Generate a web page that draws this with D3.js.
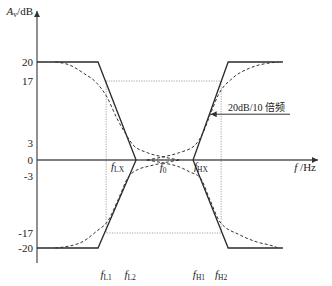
<!DOCTYPE html>
<html>
<head>
<meta charset="utf-8">
<script src="https://d3js.org/d3.v7.min.js"></script>
<style>
    body { margin: 0; background: #fff; }
    svg { display: block; font-family: 'Liberation Serif', 'Times New Roman', serif; }
</style>
</head>
<body>
<svg id="chart" width="332" height="286"></svg>
<script>
// x values are log10 of frequency (decades, arbitrary origin), y values in dB
var yTicks = [20, 17, 3, 0, -3, -17, -20];

// straight-line asymptotes (solid)
var bassBoost   = [[0, 20], [1.65, 20], [2.68, 0]];
var bassCut     = [[0, -20], [1.65, -20], [2.68, 0]];
var trebleBoost = [[4.22, 0], [5.17, 20], [6.65, 20]];
var trebleCut   = [[4.22, 0], [5.17, -20], [6.65, -20]];

var bassBoostCurve   = [[0.49, 20], [0.89, 19.5], [1.24, 18.3], [1.62, 16.5], [1.89, 13.4], [2.16, 8.6], [2.38, 5.3], [2.60, 2.65], [2.98, 1.3], [3.41, 0.55], [3.85, 0]];
var bassCutCurve     = [[0.49, -20], [1.16, -19], [1.62, -16.5], [1.92, -14], [2.19, -8.9], [2.46, -3.4], [2.79, -1.6], [3.0, -1.2], [3.41, -0.55], [3.85, 0]];
var trebleBoostCurve = [[2.97, 0], [3.41, 0.55], [3.85, 1.3], [4.27, 2.6], [4.49, 5.3], [4.68, 9.3], [4.90, 13.8], [5.30, 17.5], [5.76, 19.05], [6.52, 20]];
var trebleCutCurve   = [[2.97, 0], [3.41, -0.55], [3.85, -1.3], [4.12, -2.2], [4.41, -3.4], [4.68, -8.9], [4.95, -14.3], [5.49, -17.4], [5.95, -18.8], [6.38, -19.6], [6.52, -20]];

// marked frequencies
var midFreqs = [{sub: "LX", u: 2.68, side: "left"}, {sub: "0", u: 3.41, side: "mid"}, {sub: "HX", u: 4.22, side: "right"}];
var lowFreqs = [{sub: "L1", u: 1.87}, {sub: "L2", u: 2.52}, {sub: "H1", u: 4.38}, {sub: "H2", u: 4.98}];
var boxFreqs = [1.87, 4.98];
var boxDb = [17, -17];
var slopeNote = "20dB/10 倍频";
var noteDb = 9.5;

var svg = d3.select("#chart");
var x = d3.scaleLinear().domain([0, 7.6]).range([37, 318]);
var y = d3.scaleLinear().domain([-20, -17, -3, 0, 3, 17, 20]).range([248, 233, 176, 160, 143, 81, 62]);

var line = d3.line().x(function (d) { return x(d[0]); }).y(function (d) { return y(d[1]); });
var smooth = d3.line().x(function (d) { return x(d[0]); }).y(function (d) { return y(d[1]); }).curve(d3.curveMonotoneX);

svg.append("defs").append("marker")
    .attr("id", "arr").attr("viewBox", "0 0 10 10").attr("refX", 10).attr("refY", 5)
    .attr("markerWidth", 7).attr("markerHeight", 6).attr("markerUnits", "userSpaceOnUse")
    .attr("orient", "auto")
    .append("path").attr("d", "M0,0 L10,5 L0,10 z").attr("fill", "#333");

// dotted box
var bx0 = x(boxFreqs[0]), bx1 = x(boxFreqs[1]), by0 = y(boxDb[0]), by1 = y(boxDb[1]);
svg.append("rect")
    .attr("x", bx0).attr("y", by0).attr("width", bx1 - bx0).attr("height", by1 - by0)
    .attr("fill", "none").attr("stroke", "#999").attr("stroke-width", 0.9)
    .attr("stroke-dasharray", "1.2,1.3");

// axes
svg.append("line").attr("x1", x(0)).attr("y1", 263).attr("x2", x(0)).attr("y2", 11)
    .attr("stroke", "#555").attr("stroke-width", 1.3).attr("marker-end", "url(#arr)");
svg.append("line").attr("x1", x(0)).attr("y1", y(0)).attr("x2", x(7.6)).attr("y2", y(0))
    .attr("stroke", "#555").attr("stroke-width", 1.3).attr("marker-end", "url(#arr)");

svg.selectAll("text.ytick").data(yTicks).enter().append("text")
    .attr("class", "ytick")
    .attr("x", x(0) - 4).attr("y", function (d) { return y(d) + 4; })
    .attr("text-anchor", "end").attr("font-size", 11).attr("fill", "#222")
    .text(function (d) { return d; });

// asymptotes
[bassBoost, bassCut, trebleBoost, trebleCut].forEach(function (s) {
    svg.append("path").attr("d", line(s)).attr("fill", "none")
        .attr("stroke", "#2a2a2a").attr("stroke-width", 1.3);
});

// real curves
[bassBoostCurve, bassCutCurve, trebleBoostCurve, trebleCutCurve].forEach(function (s) {
    svg.append("path").attr("d", smooth(s)).attr("fill", "none")
        .attr("stroke", "#333").attr("stroke-width", 1)
        .attr("stroke-dasharray", "3,2.2");
});

function fLabel(tx, ty, sub, anchor) {
    var t = svg.append("text").attr("x", tx).attr("y", ty)
        .attr("text-anchor", anchor).attr("fill", "#222").attr("font-size", 11);
    t.append("tspan").attr("font-style", "italic").text("f");
    t.append("tspan").attr("font-size", 7.5).attr("dy", 2).text(sub);
    return t;
}

midFreqs.forEach(function (d) {
    if (d.side === "left") fLabel(x(d.u) - 12, 170, d.sub, "end");
    else if (d.side === "right") fLabel(x(d.u) + 1, 170, d.sub, "start");
    else fLabel(x(d.u), 171, d.sub, "middle");
});
lowFreqs.forEach(function (d) {
    fLabel(x(d.u), 278, d.sub, "middle");
});

// axis titles
var yt = svg.append("text").attr("x", 33).attr("y", 15).attr("text-anchor", "end")
    .attr("font-size", 11).attr("fill", "#222");
yt.append("tspan").attr("font-style", "italic").text("A");
yt.append("tspan").attr("font-size", 7.5).attr("dy", 2).text("v");
yt.append("tspan").attr("dy", -2).text("/dB");

var xt = svg.append("text").attr("x", 316).attr("y", 171).attr("text-anchor", "end")
    .attr("font-size", 11).attr("fill", "#222");
xt.append("tspan").attr("font-style", "italic").text("f");
xt.append("tspan").text(" /Hz");

// slope note with arrow pointing at treble boost asymptote
var nu = trebleBoost[0][0] + (noteDb - trebleBoost[0][1]) / (trebleBoost[1][1] - trebleBoost[0][1]) * (trebleBoost[1][0] - trebleBoost[0][0]);
var ny = y(noteDb);
svg.append("line").attr("x1", 290).attr("y1", ny).attr("x2", x(nu) + 1).attr("y2", ny)
    .attr("stroke", "#333").attr("stroke-width", 1).attr("marker-end", "url(#arr)");
svg.append("text").attr("x", 228).attr("y", ny - 3)
    .attr("font-family", "'Liberation Serif', 'Noto Sans CJK SC', serif")
    .attr("font-size", 10).attr("fill", "#222").text(slopeNote);
</script>
</body>
</html>
